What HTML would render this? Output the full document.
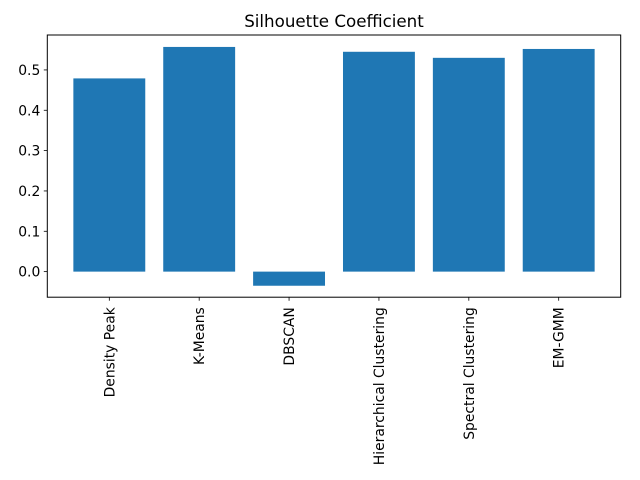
<!DOCTYPE html>
<html><head><meta charset="utf-8"><style>
body{margin:0;background:#fff;}
svg{display:block;font-family:"DejaVu Sans","Liberation Sans",sans-serif;}
</style></head><body>
<svg id="chart" width="640" height="480" xmlns="http://www.w3.org/2000/svg">
<rect width="640" height="480" fill="#fff"/>
<text x="334" y="27" font-size="16.7" text-anchor="middle" fill="#000">Silhouette Coefficient</text>
<g id="bars"></g>
<g id="yaxis"></g>
<g id="xaxis"></g>
<rect x="47.3" y="35" width="573.4" height="262.2" fill="none" stroke="#000" stroke-width="1"/>
</svg>
<script>
const categories = ["Density Peak","K-Means","DBSCAN","Hierarchical Clustering","Spectral Clustering","EM-GMM"];
const values = [0.479, 0.557, -0.035, 0.545, 0.530, 0.552];
const yTicks = [0.0, 0.1, 0.2, 0.3, 0.4, 0.5];
const yTickLabels = ["0.0","0.1","0.2","0.3","0.4","0.5"];

const L=47.3, R=620.7, T=35, B=297.2;
const yMin=-0.0634, yMax=0.5866;
const xMin=-0.69, xMax=categories.length-1+0.69;
const ns="http://www.w3.org/2000/svg";
function xs(v){return L+(v-xMin)/(xMax-xMin)*(R-L);}
function ys(v){return B-(v-yMin)/(yMax-yMin)*(B-T);}
function mk(tag,attrs,parent){const e=document.createElementNS(ns,tag);for(const k in attrs)e.setAttribute(k,attrs[k]);parent.appendChild(e);return e;}
const bars=document.getElementById('bars'), ya=document.getElementById('yaxis'), xa=document.getElementById('xaxis');
values.forEach((v,i)=>{
  const x0=xs(i-0.4), x1=xs(i+0.4), y0=ys(Math.max(v,0)), y1=ys(Math.min(v,0));
  const r=mk('rect',{x:x0,y:y0,width:x1-x0,height:y1-y0,fill:'#1f77b4'},bars);
  
  
  const t=mk('line',{x1:xs(i),x2:xs(i),y1:B,y2:B+3.5,stroke:'#000','stroke-width':0.8},xa);
  
  
  const cx=xs(i)+5, cy=B+10;
  const lb=mk('text',{x:cx,y:cy,'font-size':13.9,'text-anchor':'end',fill:'#000',transform:`rotate(-90 ${cx} ${cy})`},xa);
  lb.textContent=categories[i];
  
  
});
yTicks.forEach((v,i)=>{
  const y=ys(v);
  const t=mk('line',{x1:L-3.5,x2:L,y1:y,y2:y,stroke:'#000','stroke-width':0.8},ya);
  
  
  const lb=mk('text',{x:L-7,y:y+5,'font-size':13.9,'text-anchor':'end',fill:'#000'},ya);
  lb.textContent=yTickLabels[i];
  
  
});
</script>
</body></html>
